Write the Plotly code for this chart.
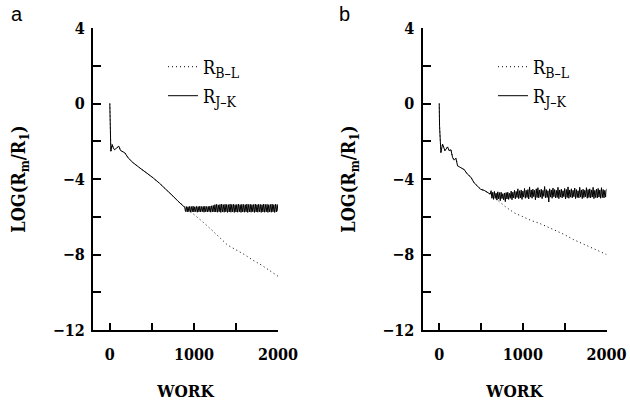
import numpy as np
import plotly.graph_objects as go

# ---------------- data ----------------
# Panel a
xa_early = [0, 4, 12, 28, 45, 59, 80, 107, 127, 158, 178, 218, 277, 356, 436, 515, 594, 673, 752, 812, 850, 880]
ya_jk_early = [0.0, -1.0, -2.53, -2.17, -2.40, -2.44, -2.35, -2.26, -2.49, -2.58, -2.61, -2.88, -3.14, -3.41,
               -3.67, -3.94, -4.24, -4.56, -4.91, -5.18, -5.35, -5.50]
xa_plateau_range = [890, 2000]
ya_jk_plateau = [
    -5.50, -5.72, -5.46, -5.75, -5.47, -5.73, -5.45, -5.76, -5.46, -5.74, -5.44, -5.75, -5.47, -5.73, -5.45, -5.76,
    -5.46, -5.74, -5.44, -5.75, -5.46, -5.73, -5.45, -5.76, -5.44, -5.74, -5.46, -5.75, -5.45, -5.73, -5.44, -5.76,
    -5.42, -5.74, -5.40, -5.75,
    -5.36, -5.75, -5.34, -5.76, -5.37, -5.74, -5.35, -5.77, -5.33, -5.75, -5.36, -5.76, -5.34, -5.74, -5.35, -5.77,
    -5.36, -5.75, -5.33, -5.76, -5.35, -5.74, -5.34, -5.77, -5.36, -5.75, -5.35, -5.76, -5.33, -5.74, -5.36, -5.77,
    -5.34, -5.75, -5.35, -5.76, -5.36, -5.74, -5.33, -5.77, -5.35, -5.75, -5.34, -5.76, -5.36, -5.74, -5.35, -5.77,
    -5.33, -5.75, -5.36, -5.76, -5.34, -5.74, -5.35, -5.77, -5.36, -5.75, -5.33, -5.76, -5.35, -5.74, -5.34, -5.77,
    -5.36, -5.75, -5.35, -5.76, -5.33, -5.74, -5.36, -5.77, -5.34, -5.75, -5.35, -5.72]
xa_bl = [0, 4, 12, 28, 45, 59, 80, 107, 127, 158, 178, 218, 277, 356, 436, 515, 594, 673, 752, 812,
         900, 1000, 1100, 1200, 1300, 1400, 1500, 1600, 1700, 1800, 1900, 2000]
ya_bl = [0.0, -1.0, -2.53, -2.17, -2.40, -2.44, -2.35, -2.26, -2.49, -2.58, -2.61, -2.88, -3.14, -3.41,
         -3.67, -3.94, -4.24, -4.56, -4.91, -5.18,
         -5.50, -5.85, -6.25, -6.65, -7.05, -7.50, -7.75, -8.00, -8.30, -8.55, -8.85, -9.15]

# Panel b
xb_early = [0, 4, 20, 40, 68, 100, 119, 140, 159, 179, 200, 219, 258, 298, 338, 378, 417, 457, 497, 537, 576, 610]
yb_jk_early = [0.0, -1.2, -2.60, -2.15, -2.50, -2.30, -2.50, -2.45, -2.85, -3.00, -2.90, -3.30, -3.40, -3.50,
               -3.75, -3.90, -4.20, -4.35, -4.55, -4.60, -4.70, -4.80]
xb_plateau_range = [620, 2000]
yb_jk_plateau = [
    -4.62, -5.02, -4.70, -5.08, -4.66, -5.00, -4.75, -5.12, -4.68, -5.05, -4.72, -5.15, -4.70, -5.04, -4.78, -5.10,
    -4.74, -5.20, -4.72, -5.06, -4.70, -5.08, -4.76, -5.02, -4.64, -5.10, -4.70, -5.00, -4.60, -5.05, -4.66, -4.98,
    -4.52, -5.04, -4.62, -5.00, -4.58, -5.08, -4.64, -4.96, -4.50, -5.02, -4.60, -4.98, -4.56, -5.06, -4.42, -4.96,
    -4.58, -5.02, -4.54, -4.94, -4.60, -5.10, -4.52, -4.98, -4.46, -5.00, -4.58, -4.96, -4.54, -5.04, -4.60, -4.92,
    -4.40, -5.00, -4.56, -4.98, -4.62, -5.22, -4.52, -4.96, -4.58, -5.02, -4.48, -4.94, -4.56, -5.00, -4.60, -4.98,
    -4.44, -5.04, -4.58, -4.96, -4.54, -5.00, -4.62, -4.94, -4.50, -5.06, -4.56, -4.98, -4.42, -5.02, -4.58, -4.96,
    -4.52, -5.00, -4.60, -4.94, -4.48, -5.04, -4.56, -4.98, -4.62, -5.00, -4.44, -4.96, -4.58, -5.04, -4.54, -4.98,
    -4.60, -4.94, -4.46, -5.02, -4.56, -4.98, -4.52, -5.00, -4.58, -4.96, -4.44, -5.04, -4.60, -4.98, -4.54, -5.00,
    -4.50, -4.96, -4.58, -5.02, -4.46, -4.98, -4.56, -5.00, -4.60, -4.96, -4.52]
xb_bl = [0, 4, 20, 40, 68, 100, 119, 140, 159, 179, 200, 219, 258, 298, 338, 378, 417, 457, 497, 537, 576,
         650, 700, 800, 900, 1000, 1100, 1200, 1300, 1400, 1500, 1600, 1700, 1800, 1900, 2000]
yb_bl = [0.0, -1.2, -2.60, -2.15, -2.50, -2.30, -2.50, -2.45, -2.85, -3.00, -2.90, -3.30, -3.40, -3.50,
         -3.75, -3.90, -4.20, -4.35, -4.55, -4.60, -4.70,
         -4.95, -5.15, -5.50, -5.80, -6.00, -6.20, -6.35, -6.55, -6.75, -6.95, -7.20, -7.40, -7.60, -7.80, -8.00]

x_range = [-200, 2000]
y_range = [-12, 4]
series_names = ["R<sub><span style='font-size:14px'>B\u2013L</span></sub>",
                "R<sub><span style='font-size:14px'>J\u2013K</span></sub>"]
panel_labels = ["a", "b"]
x_title = "WORK"
y_title = "LOG(R<sub>m</sub>/R<sub>1</sub>)"

# ---------------- build ----------------
xa_jk = xa_early + list(np.linspace(xa_plateau_range[0], xa_plateau_range[1], len(ya_jk_plateau)))
ya_jk = ya_jk_early + ya_jk_plateau
xb_jk = xb_early + list(np.linspace(xb_plateau_range[0], xb_plateau_range[1], len(yb_jk_plateau)))
yb_jk = yb_jk_early + yb_jk_plateau

SERIF = "DejaVu Serif Condensed, DejaVu Serif, serif"
dot_style = dict(color="black", width=1, dash="1px,3px")
solid_style = dict(color="black", width=1)

fig = go.Figure()
fig.add_trace(go.Scatter(x=xa_bl, y=ya_bl, mode="lines", line=dot_style, name=series_names[0],
                         xaxis="x", yaxis="y", legend="legend", showlegend=True))
fig.add_trace(go.Scatter(x=xa_jk, y=ya_jk, mode="lines", line=solid_style, name=series_names[1],
                         xaxis="x", yaxis="y", legend="legend2", showlegend=True))
fig.add_trace(go.Scatter(x=xb_bl, y=yb_bl, mode="lines", line=dot_style, name=series_names[0],
                         xaxis="x2", yaxis="y2", legend="legend3", showlegend=True))
fig.add_trace(go.Scatter(x=xb_jk, y=yb_jk, mode="lines", line=solid_style, name=series_names[1],
                         xaxis="x2", yaxis="y2", legend="legend4", showlegend=True))

W, H = 630, 405
tickfont = dict(family=SERIF, size=16, color="black", weight="bold")
titlefont = dict(family=SERIF, size=17, color="black", weight="bold")
ytitlefont = dict(family=SERIF, size=18, color="black", weight="bold")

common_x = dict(range=x_range, showline=True, linewidth=2, linecolor="black", layer="above traces",
                ticks="inside", ticklen=7, tickwidth=2, tickcolor="black", dtick=1000, tick0=0,
                minor=dict(ticks="inside", dtick=500, tick0=0, ticklen=7, tickwidth=2, tickcolor="black"),
                showgrid=False, zeroline=False, tickfont=tickfont, ticklabelstandoff=9,
                title=dict(text=x_title, font=titlefont, standoff=22), automargin=False)
common_y = dict(range=y_range, showline=True, linewidth=2, linecolor="black", layer="above traces",
                ticks="inside", ticklen=8, tickwidth=2, tickcolor="black", dtick=4, tick0=0,
                minor=dict(ticks="inside", dtick=2, tick0=0, ticklen=8, tickwidth=2, tickcolor="black"),
                showgrid=False, zeroline=False, tickfont=tickfont, ticklabelstandoff=3,
                title=dict(text=y_title, font=ytitlefont, standoff=22), automargin=False)

xa_axis = dict(common_x, domain=[93 / W, 278 / W], anchor="y")
ya_axis = dict(common_y, domain=[75 / H, 377 / H], anchor="x")
xb_axis = dict(common_x, domain=[422.5 / W, 606.5 / W], anchor="y2")
yb_axis = dict(common_y, domain=[75 / H, 377 / H], anchor="x2")

legfont = dict(family=SERIF, size=18, color="black")


def leg(xpx, ypx):
    return dict(x=xpx / W, y=1 - ypx / H, xanchor="left", yanchor="middle", font=legfont,
                bgcolor="rgba(0,0,0,0)", borderwidth=0)


fig.update_layout(
    width=W, height=H, margin=dict(l=0, r=0, t=0, b=0), showlegend=True,
    paper_bgcolor="white", plot_bgcolor="rgba(0,0,0,0)",
    xaxis=xa_axis, yaxis=ya_axis, xaxis2=xb_axis, yaxis2=yb_axis,
    legend=leg(163, 67), legend2=leg(163, 96), legend3=leg(493, 67), legend4=leg(493, 96),
    annotations=[
        dict(text=panel_labels[0], x=9 / W, y=1 - 14 / H, xref="paper", yref="paper", xanchor="left",
             yanchor="middle", showarrow=False, font=dict(family="Liberation Sans, Arial", size=20, color="black")),
        dict(text=panel_labels[1], x=337 / W, y=1 - 14 / H, xref="paper", yref="paper", xanchor="left",
             yanchor="middle", showarrow=False, font=dict(family="Liberation Sans, Arial", size=20, color="black")),
    ],
)

fig.write_html("out.html", config={"displayModeBar": False})
